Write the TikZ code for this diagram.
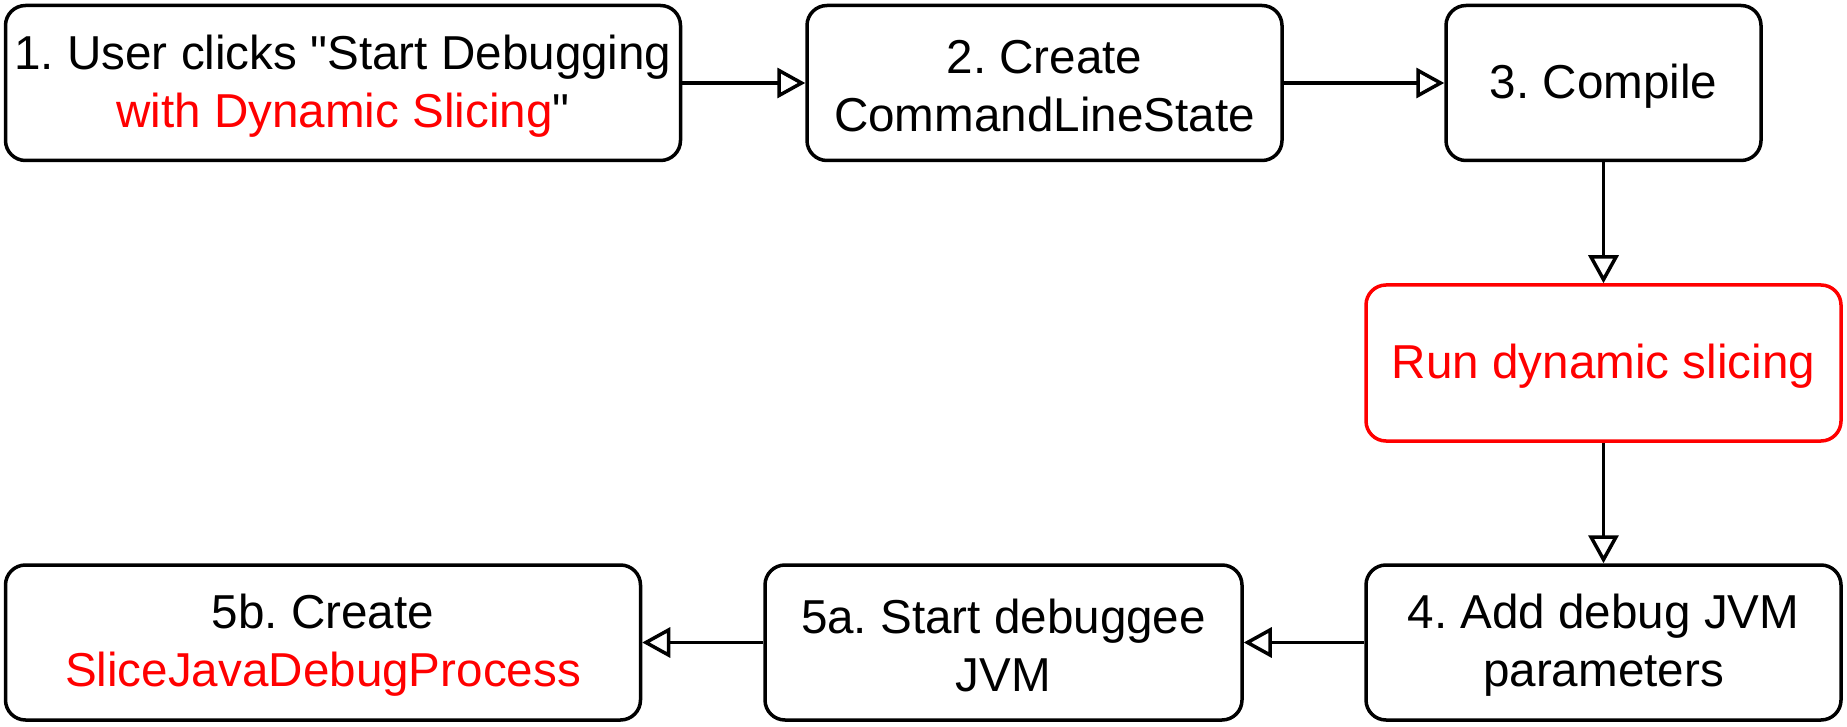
\documentclass[tikz,border=0pt]{standalone}
\usepackage{fontspec}
\setmainfont{Liberation Sans}[Ligatures=TeXOff]
\usetikzlibrary{arrows.meta}
\definecolor{slicered}{RGB}{255,0,0}
\newcommand{\toppad}{\rule{0pt}{40pt}}
\frenchspacing
\begin{document}
\begin{tikzpicture}[x=1pt,y=-1pt,
  box/.style={draw=black, line width=3.5pt, rounded corners=20pt, fill=white,
    align=center, inner sep=0pt,
    font=\fontsize{47.6pt}{58pt}\selectfont\frenchspacing},
  redbox/.style={box, draw=slicered, text=slicered},
  flow/.style={line width=3.5pt, -{Triangle[open, length=28pt, width=30pt, line width=3.5pt]}}
]
\useasboundingbox (0,0) rectangle (1847,727);
\node[box, minimum width=675pt, minimum height=155pt] (b1) at (343,83)
  {\toppad 1. User clicks "Start Debugging\\\textcolor{slicered}{with Dynamic Slicing}"};
\node[box, minimum width=475pt, minimum height=155pt] (b2) at (1044.5,83)
  {\toppad 2. Create\\CommandLineState};
\node[box, minimum width=315pt, minimum height=155pt] (b3) at (1603.5,83)
  {\toppad 3. Compile};
\node[redbox, minimum width=475pt, minimum height=156pt] (rs) at (1603.5,363)
  {\toppad Run dynamic slicing};
\node[box, minimum width=475pt, minimum height=155pt] (b4) at (1603.5,642.5)
  {\toppad 4. Add debug JVM\\parameters};
\node[box, minimum width=477pt, minimum height=155pt] (b5a) at (1003.5,642.5)
  {\toppad 5a. Start debuggee\\JVM};
\node[box, minimum width=635pt, minimum height=155pt] (b5b) at (323,642.5)
  {\toppad 5b. Create\\\textcolor{slicered}{SliceJavaDebugProcess}};
\draw[flow] (b1) -- (b2);
\draw[flow] (b2) -- (b3);
\draw[flow] (b3) -- (rs);
\draw[flow] (rs) -- (b4);
\draw[flow] (b4) -- (b5a);
\draw[flow] (b5a) -- (b5b);
\end{tikzpicture}
\end{document}
